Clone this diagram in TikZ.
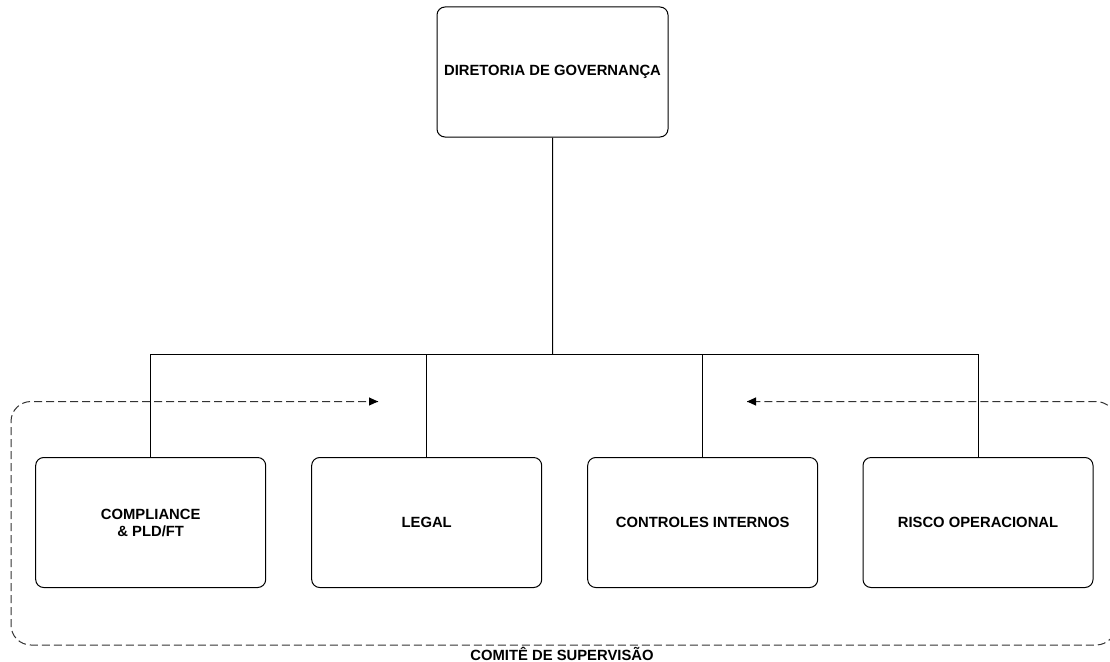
\documentclass[tikz,border=0pt]{standalone}
\usepackage{fontspec}
\setmainfont{Liberation Sans}
\usetikzlibrary{arrows.meta}
\begin{document}
\begin{tikzpicture}[x=1pt,y=-1pt,
  unit/.style={draw=black, line width=1pt, rounded corners=8pt, minimum width=230pt, minimum height=130pt, inner sep=0pt, align=center, font=\bfseries\fontsize{14.8}{17}\selectfont},
  link/.style={draw=black, line width=1pt},
  group/.style={draw=black!80, line width=1pt, dash pattern=on 8pt off 4pt, rounded corners=20pt},
  tip/.style={-{Triangle[length=9pt,width=8pt]}},
  lbl/.style={font=\bfseries\fontsize{14.8}{17}\selectfont, inner sep=0pt}]
\clip (0,0) rectangle (1110,661);
\fill[white] (0,0) rectangle (1110,661);
\node[unit, minimum width=231pt] (dir) at (552.5,72) {DIRETORIA DE GOVERNANÇA};
\node[unit] (comp) at (150.7,522.5) {COMPLIANCE\\\& PLD/FT};
\node[unit] (legal) at (426.7,522.5) {LEGAL};
\node[unit] (ctrl) at (702.7,522.5) {CONTROLES INTERNOS};
\node[unit] (risco) at (978,522.5) {RISCO OPERACIONAL};
\coordinate (bus) at (552.7,354);
\draw[link] (dir.south) -- (bus);
\draw[link] (comp.north) |- (bus);
\draw[link] (risco.north) |- (bus);
\draw[link] (legal.north) -- (legal.north |- bus);
\draw[link] (ctrl.north) -- (ctrl.north |- bus);
\coordinate (al) at (378,401.5);
\coordinate (ar) at (747,401.5);
\coordinate (tl) at (11,401.5);
\coordinate (bl) at (11,645);
\coordinate (br) at (1116,645);
\coordinate (tr) at (1116,401.5);
\draw[group] (al) -- (tl) -- (bl) -- (br) -- (tr) -- (ar);
\draw[tip, line width=1pt, draw=black] ([xshift=-0.5pt]al) -- (al);
\draw[tip, line width=1pt, draw=black] ([xshift=0.5pt]ar) -- (ar);
\node[lbl] (comite) at (562,653.5) {COMITÊ DE SUPERVISÃO};
\end{tikzpicture}
\end{document}
